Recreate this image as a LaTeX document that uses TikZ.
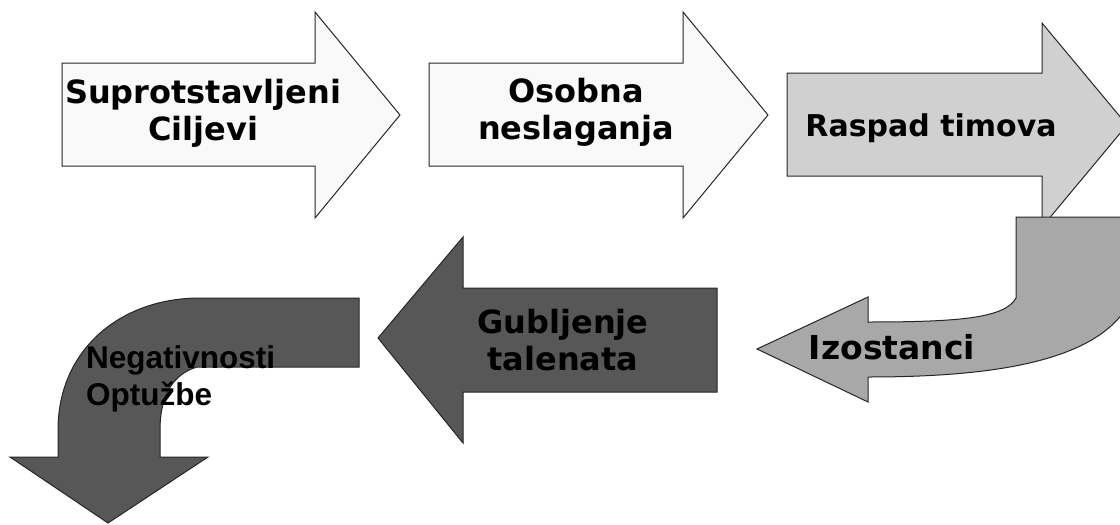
\documentclass[tikz,border=0pt]{standalone}
\usepackage{fontspec}
\usepackage{tikz}
\newfontfamily\verdanafont{DejaVu Sans}
\newfontfamily\arialfont{Liberation Sans}
\usetikzlibrary{positioning}

\definecolor{stepwhite}{HTML}{F9F9F9}
\definecolor{steplight}{HTML}{D0D0D0}
\definecolor{stepmid}{HTML}{A8A8A8}
\definecolor{stepdark}{HTML}{575757}

\begin{document}
\begin{tikzpicture}[x=1pt, y=-1pt,
        arrowbody/.style={draw=black!85, line width=1pt, line join=miter},
        steptext/.style={font=\verdanafont\bfseries\fontsize{32}{37}\selectfont, align=center, inner sep=0pt},
        curvetext/.style={font=\arialfont\bfseries\fontsize{31.5}{37}\selectfont, align=left, inner sep=0pt}
    ]
    \useasboundingbox (0,0) rectangle (1120,525);

    % gornji red
    \fill[arrowbody, fill=stepwhite] (62,63) -- (315,63) -- (315,12) -- (400,115) -- (315,218) -- (315,166) -- (62,166) -- cycle;
    \fill[arrowbody, fill=stepwhite] (429,63) -- (683,63) -- (683,12) -- (768,115) -- (683,218) -- (683,166) -- (429,166) -- cycle;
    \fill[arrowbody, fill=steplight] (787,73) -- (1042,73) -- (1042,23) -- (1127,125) -- (1042,227) -- (1042,176) -- (787,176) -- cycle;

    % zakrivljena strelica desno
    \fill[arrowbody, fill=stepmid] (1016,217) -- (1135,217) -- (1135,290)
        .. controls (1112,360) and (1000,377) .. (868,377) -- (868,402) -- (757,349) -- (868,297) -- (868,322)
        .. controls (960,322) and (1005,318) .. (1016,298) -- cycle;

    % donji red
    \fill[arrowbody, fill=stepdark] (717,288) -- (717,392) -- (463,392) -- (463,443) -- (378,338) -- (463,237) -- (463,288) -- cycle;
    \fill[arrowbody, fill=stepdark] (359,298) -- (359,367) -- (197,367)
        .. controls (170,375) and (160,400) .. (160,430) -- (160,457) -- (208,457) -- (108,523) -- (10,457) -- (58,457) -- (58,430)
        .. controls (58,350) and (120,298) .. (200,298) -- cycle;

    % tekst
    \node[steptext] (ciljevi) at (203,113) {Suprotstavljeni\\Ciljevi};
    \node[steptext] (neslaganja) at (576,112) {Osobna\\neslaganja};
    \node[steptext, font=\verdanafont\bfseries\fontsize{30}{36}\selectfont] (raspad) at (931,128) {Raspad timova};
    \node[steptext, font=\verdanafont\bfseries\fontsize{33}{38}\selectfont] (izostanci) at (892,347) {Izostanci};
    \node[steptext] (talenti) at (563,340) {Gubljenje\\talenata};
    \node[curvetext, anchor=north west] (optuzbe) at (86,345) {Negativnosti\\Optužbe};

\end{tikzpicture}
\end{document}
